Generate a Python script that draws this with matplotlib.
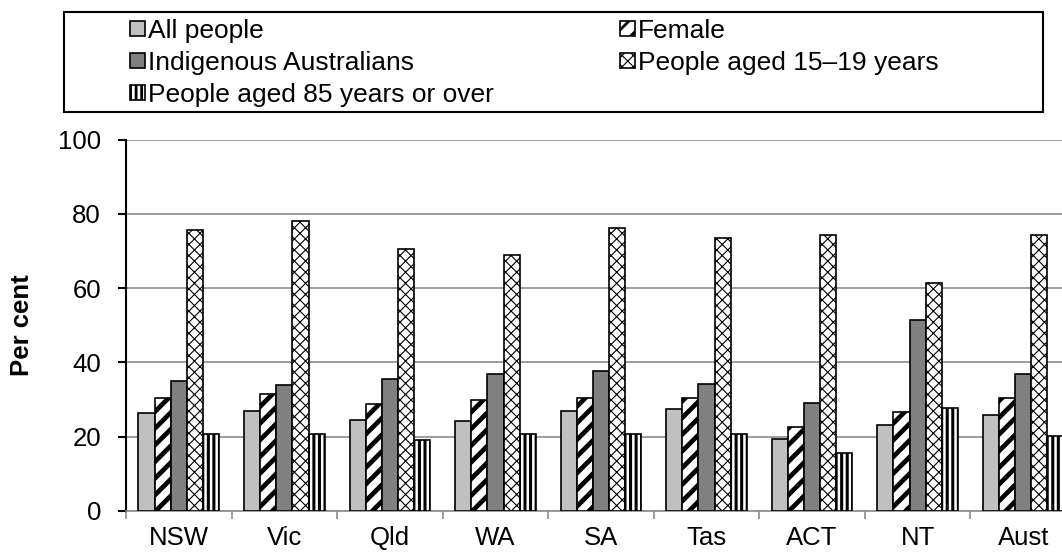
import matplotlib
matplotlib.use("Agg")
import matplotlib.pyplot as plt
import numpy as np
from matplotlib.patches import Rectangle

plt.rcParams['font.family'] = ['Liberation Sans', 'DejaVu Sans']

states = ["NSW", "Vic", "Qld", "WA", "SA", "Tas", "ACT", "NT", "Aust"]
all_people = [26.3, 26.9, 24.6, 24.2, 26.9, 27.4, 19.3, 23.1, 25.8]
female = [30.5, 31.5, 28.9, 30.0, 30.5, 30.5, 22.5, 26.7, 30.5]
indigenous = [35.0, 33.8, 35.5, 37.0, 37.6, 34.3, 29.0, 51.5, 37.0]
aged_15_19 = [75.7, 78.0, 70.4, 68.8, 76.3, 73.6, 74.2, 61.4, 74.2]
aged_85 = [20.8, 20.8, 19.2, 20.8, 20.8, 20.8, 15.5, 27.8, 20.2]
labels = ["All people", "Female", "Indigenous Australians",
          "People aged 15\u201319 years", "People aged 85 years or over"]

# fill, hatch, hatch linewidth
styles = [("#c0c0c0", None, 1.0),
          ("white", "//", 3.4),
          ("#808080", None, 1.0),
          ("white", "xxx", 0.8),
          ("white", "|||", 2.2)]


def hatch_lw(patch, lw):
    if hasattr(patch, "set_hatch_linewidth"):
        patch.set_hatch_linewidth(lw)
    orig = patch.draw

    def draw(renderer):
        with plt.rc_context({'hatch.linewidth': lw}):
            orig(renderer)
    patch.draw = draw


fig = plt.figure(figsize=(10.62, 5.55), dpi=100)
ax = fig.add_axes([126 / 1062, 44 / 555, 950 / 1062, 371.5 / 555])

x = np.arange(len(states))
w = 0.1527
series = [all_people, female, indigenous, aged_15_19, aged_85]
handles = []
for i, vals in enumerate(series):
    fc, hatch, hlw = styles[i]
    bars = ax.bar(x + (i - 2) * w, vals, w, color=fc, edgecolor="black",
                  linewidth=1.2, hatch=hatch, label=labels[i], zorder=3)
    for b in bars:
        hatch_lw(b, hlw)
    handles.append(bars)

ax.set_xlim(-0.5, 8.5)
ax.set_ylim(0, 100)
ax.set_yticks([0, 20, 40, 60, 80, 100])
ax.yaxis.grid(True, color="#8c8c8c", linewidth=1.2)
ax.set_axisbelow(True)
for s in ["top", "right"]:
    ax.spines[s].set_visible(False)
ax.spines["left"].set_linewidth(1.5)
ax.spines["left"].set_color("black")
ax.spines["bottom"].set_linewidth(1.2)
ax.spines["bottom"].set_color("#8c8c8c")
ax.tick_params(axis="y", labelsize=18.5, length=6, width=1.5, pad=12,
               color="black")
ax.set_xticks(x)
ax.set_xticklabels(states)
ax.set_xticks(np.arange(-0.5, 9, 1), minor=True)
ax.tick_params(axis="x", which="major", length=0, labelsize=18.5, pad=11)
ax.tick_params(axis="x", which="minor", length=6, width=1.2, color="#8c8c8c")

fig.text(22 / 1062, 1 - 325 / 555, "Per cent", rotation=90, ha="center",
         va="center", fontsize=18.5, fontweight="bold")

# legend frame and two columns
fig.patches.append(Rectangle((64 / 1062, 1 - 112 / 555), 979 / 1062,
                             99.5 / 555, transform=fig.transFigure,
                             fill=False, edgecolor="black", linewidth=1.5))
leg_kw = dict(frameon=False, loc="upper left", fontsize=19,
              handlelength=0.55, handleheight=0.5, handletextpad=0.12,
              labelspacing=0.3, borderpad=0, borderaxespad=0)
cols = [([0, 2, 4], 130), ([1, 3], 620)]
for idx, xpos in cols:
    leg = fig.legend([handles[i] for i in idx], [labels[i] for i in idx],
                     bbox_to_anchor=(xpos / 1062, 1 - 19 / 555), **leg_kw)
    for p, i in zip(leg.get_patches(), idx):
        hatch_lw(p, min(styles[i][2], 2.0))

fig.savefig("out.png", dpi=100)
